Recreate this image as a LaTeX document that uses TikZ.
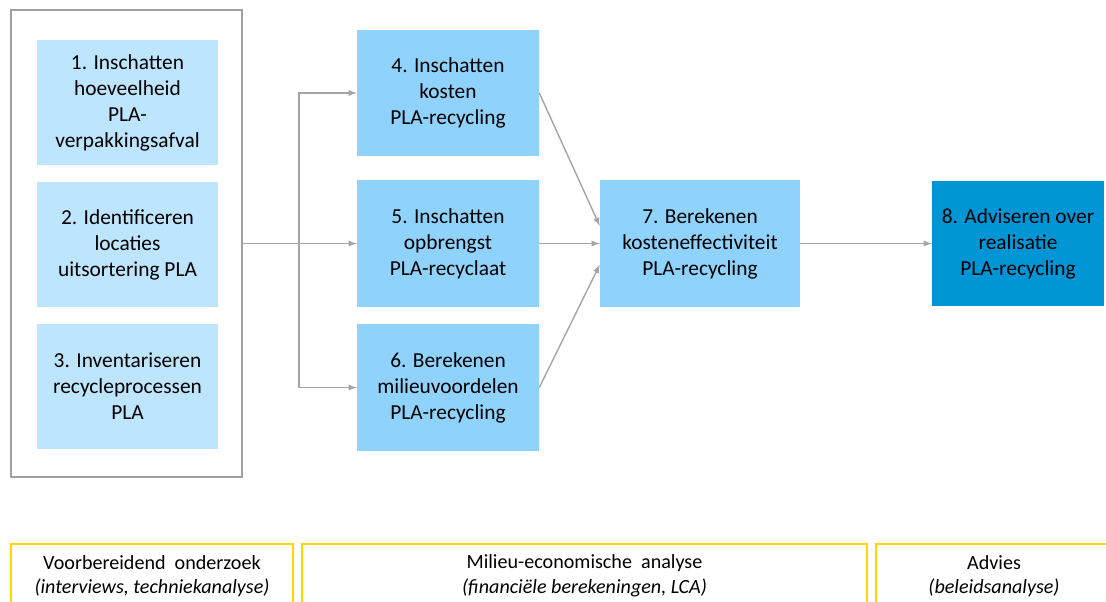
\documentclass[tikz,border=0pt]{standalone}
\usepackage{fontspec}
\setmainfont{Carlito}
\usetikzlibrary{arrows}
\usetikzlibrary{positioning}

\definecolor{paleblue}{RGB}{189,229,253}
\definecolor{midblue}{RGB}{143,211,253}
\definecolor{deepblue}{RGB}{0,150,214}
\definecolor{linegray}{RGB}{165,165,165}
\definecolor{framegray}{RGB}{160,160,160}
\definecolor{phaseyellow}{RGB}{255,215,0}

\begin{document}
\begin{tikzpicture}[x=0.025cm, y=-0.025cm, >=latex]
  \tikzset{
    stepbox/.style={rectangle, align=center, inner sep=2pt,
      font=\fontsize{15.2}{18.5}\selectfont},
    prep/.style={stepbox, fill=paleblue, minimum width=4.525cm, minimum height=3.125cm},
    calc/.style={stepbox, fill=midblue, minimum width=4.55cm, minimum height=3.15cm},
    flow/.style={->, draw=linegray, line width=1pt},
    phase/.style={draw=phaseyellow, line width=1.4pt, anchor=north, align=center,
      font=\fontsize{14.3}{17.5}\selectfont, minimum height=1.6cm}
  }
  \useasboundingbox (0,0) rectangle (1106,601);

  % outer frame around the preparatory steps
  \node[draw=framegray, line width=1.1pt, minimum width=5.775cm, minimum height=11.675cm] (frame) at (126.5,243.5) {};

  \node[prep] (s1) at (127.5,102.5) {1. Inschatten\\hoeveelheid\\PLA-\\verpakkingsafval};
  \node[prep] (s2) at (127.5,244.5) {2. Identificeren\\locaties\\uitsortering PLA};
  \node[prep] (s3) at (127.5,386.5) {3. Inventariseren\\recycleprocessen\\PLA};

  \node[calc] (s4) at (448,93) {4. Inschatten\\kosten\\PLA-recycling};
  \node[calc] (s5) at (448,243.5) {5. Inschatten\\opbrengst\\PLA-recyclaat};
  \node[calc] (s6) at (448,387.5) {6. Berekenen\\milieuvoordelen\\PLA-recycling};

  \node[calc, minimum width=5cm] (s7) at (700,243.5) {7. Berekenen\\kosteneffectiviteit\\PLA-recycling};
  \node[stepbox, fill=deepblue, minimum width=4.3cm, minimum height=3.125cm] (s8) at (1018,243.5) {8. Adviseren over\\realisatie\\PLA-recycling};

  \coordinate (split) at (299,243.5);

  \draw[flow] (frame.east) -- (s5.west);
  \draw[flow] (split) |- (s4.west);
  \draw[flow] (split) |- (s6.west);
  \draw[flow] (s4.east) -- (s7.170);
  \draw[flow] (s5.east) -- (s7.west);
  \draw[flow] (s6.east) -- (s7.192);
  \draw[flow] (s7.east) -- (s8.west);

  % phases
  \node[phase, minimum width=7.05cm] (p1) at (152,543) {Voorbereidend\ \ onderzoek\\\textit{(interviews, techniekanalyse)}};
  \node[phase, minimum width=14.125cm] (p2) at (584.5,543) {Milieu-economische\ \ analyse\\\textit{(financiële berekeningen, LCA)}};
  \node[phase, minimum width=5.9cm] (p3) at (994,543) {Advies\\\textit{(beleidsanalyse)}};
\end{tikzpicture}
\end{document}
